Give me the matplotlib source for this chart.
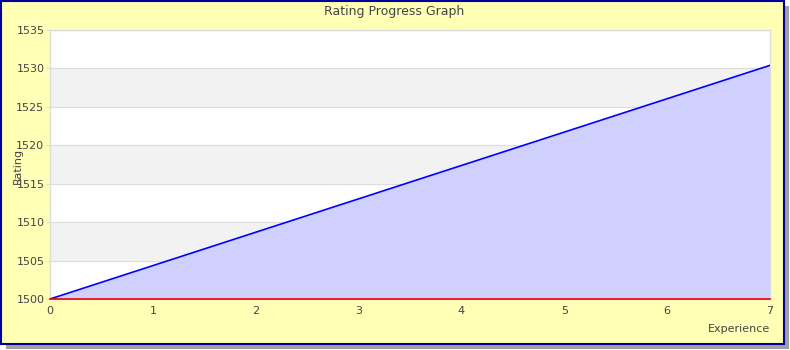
import matplotlib
matplotlib.use("Agg")
import matplotlib.pyplot as plt
from matplotlib.patches import Rectangle

# data
experience = [0, 7]
rating = [1500, 1530.4]
baseline = 1500
y_ticks = [1500, 1505, 1510, 1515, 1520, 1525, 1530, 1535]
x_ticks = [0, 1, 2, 3, 4, 5, 6, 7]

W, H = 790, 350
fig = plt.figure(figsize=(W / 100, H / 100), dpi=100)
fig.patch.set_facecolor("white")

def px(x0, y0, w, h):
    # pixel box (top-left origin) -> figure fraction
    return (x0 / W, 1 - (y0 + h) / H), w / W, h / H

# drop shadow and yellow panel
(sx, sy), sw, sh = px(6, 6, 783, 343)
fig.patches.append(Rectangle((sx, sy), sw, sh, transform=fig.transFigure,
                             facecolor="#a0a0a0", edgecolor="none", zorder=-2))
(bx, by), bw, bh = px(1, 1, 783, 343)
fig.patches.append(Rectangle((bx, by), bw, bh, transform=fig.transFigure,
                             facecolor="#ffffb5", edgecolor="#000099",
                             linewidth=1.5, zorder=-1))

(ax_x, ax_y), ax_w, ax_h = px(50, 30, 720, 269)
ax = fig.add_axes([ax_x, ax_y, ax_w, ax_h])
ax.set_zorder(2)
ax.set_facecolor("white")

# alternating horizontal bands
for i in range(len(y_ticks) - 1):
    if i % 2 == 1:
        ax.axhspan(y_ticks[i], y_ticks[i + 1], color="#f2f2f2", zorder=0, linewidth=0)

ax.fill_between(experience, baseline, rating, color="#d0d0ff", zorder=1, linewidth=0)
ax.plot(experience, rating, color="#0000ff", linewidth=1.2, zorder=3)
ax.plot([experience[0], experience[-1]], [baseline, baseline], color="#ee0000",
        linewidth=1.2, zorder=3, clip_on=False)

ax.set_xlim(0, 7)
ax.set_ylim(1500, 1535)
ax.set_xticks(x_ticks)
ax.set_yticks(y_ticks)
ax.grid(axis="y", color="#dddddd", linewidth=0.9, zorder=0.5)
ax.set_axisbelow(True)

for s in ["top", "right", "left", "bottom"]:
    ax.spines[s].set_color("#dddddd")
    ax.spines[s].set_linewidth(1)

ax.tick_params(axis="y", length=3, color="#dddddd", labelsize=8, labelcolor="#444444", pad=1)
ax.tick_params(axis="x", length=0, labelsize=8, labelcolor="#444444", pad=5)

fig.text(394 / W, 1 - 11 / H, "Rating Progress Graph", ha="center", va="center",
         fontsize=9, color="#444444")
fig.text(18 / W, 1 - 166 / H, "Rating", ha="center", va="center", rotation=90,
         fontsize=8, color="#444444")
fig.text(770 / W, 1 - 329 / H, "Experience", ha="right", va="center",
         fontsize=8, color="#444444")

fig.savefig("out.png", dpi=100)
